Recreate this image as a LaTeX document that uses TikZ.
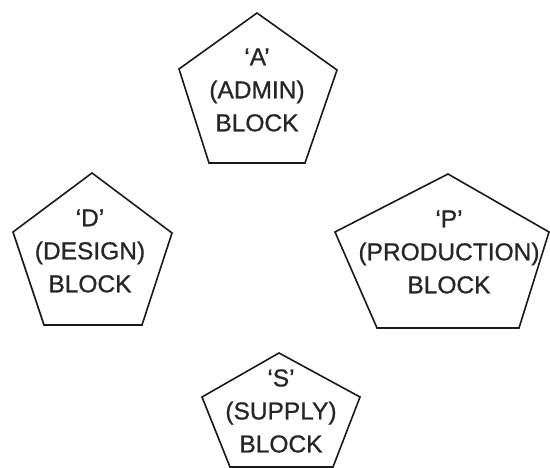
\documentclass[tikz,border=0pt]{standalone}
\usepackage{fontspec}
\setmainfont{Liberation Sans}
\newfontfamily\blockfont{Liberation Sans}[FakeBold=0.8,Ligatures=TeX]
\begin{document}
\begin{tikzpicture}[x=1pt,y=-1pt,
  blockshape/.style={draw=black!90,line width=1.6pt,line join=miter},
  blocklabel/.style={align=center,inner sep=0pt,text=black!85,font=\blockfont\fontsize{24.5}{33}\selectfont}]
\useasboundingbox (0,0) rectangle (550,468);
% A block
\draw[blockshape] (257,13) -- (337,70) -- (305,163) -- (209,163) -- (179,69) -- cycle;
\node[blocklabel] (a) at (257,90) {‘A’\\(ADMIN)\\BLOCK};
% D block
\draw[blockshape] (92,173) -- (172,233) -- (142,325) -- (44,325) -- (13,232) -- cycle;
\node[blocklabel] (d) at (90,251) {‘D’\\(DESIGN)\\BLOCK};
% P block
\draw[blockshape] (448,174) -- (549,232) -- (519,328) -- (377,328) -- (335,232) -- cycle;
\node[blocklabel] (p) at (449,252) {‘P’\\(PRODUCTION)\\BLOCK};
% S block
\draw[blockshape] (279,353) -- (360,397) -- (333,467) -- (230,467) -- (202,397) -- cycle;
\node[blocklabel] (s) at (281,411) {‘S’\\(SUPPLY)\\BLOCK};
\end{tikzpicture}
\end{document}
